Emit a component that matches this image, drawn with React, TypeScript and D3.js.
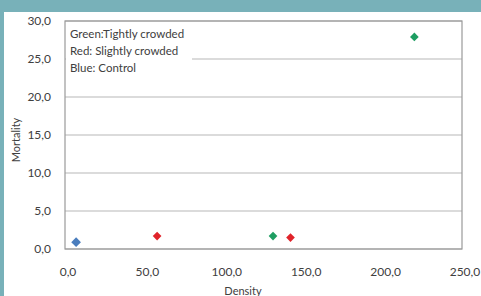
import React, { useEffect, useRef } from 'react';
import * as d3 from 'd3';

// Series values (Density, Mortality)
const blueDensity = [7];
const blueMortality = [0.9];
const redDensity = [58, 142];
const redMortality = [1.7, 1.5];
const greenDensity = [131, 220];
const greenMortality = [1.7, 27.9];

const xTicks = [0, 50, 100, 150, 200, 250];
const yTicks = [0, 5, 10, 15, 20, 25, 30];
const legendLines = ['Green:Tightly crowded', 'Red: Slightly crowded', 'Blue: Control'];

const fmt = (v: number) => v.toFixed(1).replace('.', ',');

const App: React.FC = () => {
  const svgRef = useRef<SVGSVGElement | null>(null);

  useEffect(() => {
    const svg = d3.select(svgRef.current);
    svg.selectAll('*').remove();
    const width = 481;
    const height = 296;
    const margin = { top: 21, right: 19, bottom: 47, left: 65 };
    const font = 'Lato, "Open Sans", sans-serif';

    svg.attr('width', width).attr('height', height);

    // Frame
    svg.append('rect').attr('width', width).attr('height', height).attr('fill', '#fff');
    svg.append('rect').attr('width', width).attr('height', 12).attr('fill', '#78b1b9');
    svg.append('rect').attr('width', 4).attr('height', height).attr('fill', '#78b1b9');

    const x = d3.scaleLinear().domain([0, 250]).range([margin.left, width - margin.right]);
    const y = d3.scaleLinear().domain([0, 30]).range([height - margin.bottom, margin.top]);

    // Grid lines
    svg.append('g')
      .selectAll('line')
      .data(yTicks)
      .enter()
      .append('line')
      .attr('x1', x(0))
      .attr('x2', x(250))
      .attr('y1', d => y(d))
      .attr('y2', d => y(d))
      .attr('stroke', '#b8b8b8')
      .attr('stroke-width', 1.2);

    // Plot border
    svg.append('rect')
      .attr('x', x(0))
      .attr('y', y(30))
      .attr('width', x(250) - x(0))
      .attr('height', y(0) - y(30))
      .attr('fill', 'none')
      .attr('stroke', '#9a9a9a')
      .attr('stroke-width', 1.2);

    // Legend text box
    svg.append('rect')
      .attr('x', x(0) + 1)
      .attr('y', y(30) + 1)
      .attr('width', 126)
      .attr('height', 59)
      .attr('fill', '#fff');
    svg.append('g')
      .selectAll('text')
      .data(legendLines)
      .enter()
      .append('text')
      .attr('x', x(0) + 5)
      .attr('y', (d, i) => 38 + i * 17)
      .attr('font-family', font)
      .attr('font-size', 11.5)
      .attr('fill', '#404040')
      .text(d => d);

    // Y tick labels
    svg.append('g')
      .selectAll('text')
      .data(yTicks)
      .enter()
      .append('text')
      .attr('x', 51)
      .attr('y', d => y(d) + 4)
      .attr('text-anchor', 'end')
      .attr('font-family', font)
      .attr('font-size', 12)
      .attr('fill', '#404040')
      .text(d => fmt(d));

    // X tick labels
    svg.append('g')
      .selectAll('text')
      .data(xTicks)
      .enter()
      .append('text')
      .attr('x', d => x(d) + 3)
      .attr('y', 276)
      .attr('text-anchor', 'middle')
      .attr('font-family', font)
      .attr('font-size', 12)
      .attr('fill', '#404040')
      .text(d => fmt(d));

    // Axis titles
    svg.append('text')
      .attr('x', 243)
      .attr('y', 295)
      .attr('text-anchor', 'middle')
      .attr('font-family', font)
      .attr('font-size', 11)
      .attr('fill', '#404040')
      .text('Density');
    svg.append('text')
      .attr('transform', 'translate(20,140) rotate(-90)')
      .attr('text-anchor', 'middle')
      .attr('font-family', font)
      .attr('font-size', 11)
      .attr('fill', '#404040')
      .text('Mortality');

    // Points
    const diamond = d3.symbol().type(d3.symbolDiamond2).size(40);
    const series = [
      { xs: blueDensity, ys: blueMortality, color: '#4a7dbd', size: 60 },
      { xs: redDensity, ys: redMortality, color: '#e0232a', size: 48 },
      { xs: greenDensity, ys: greenMortality, color: '#1e9e62', size: 48 },
    ];
    series.forEach(s => {
      svg.append('g')
        .selectAll('path')
        .data(s.xs.map((v, i) => [v, s.ys[i]]))
        .enter()
        .append('path')
        .attr('d', d3.symbol().type(d3.symbolDiamond2).size(s.size)())
        .attr('transform', d => `translate(${x(d[0])},${y(d[1])})`)
        .attr('fill', s.color);
    });
    void diamond;
  }, []);

  return (
    <svg ref={svgRef} style={{ position: 'absolute', left: 0, top: 0 }}></svg>
  );
};

export default App;
